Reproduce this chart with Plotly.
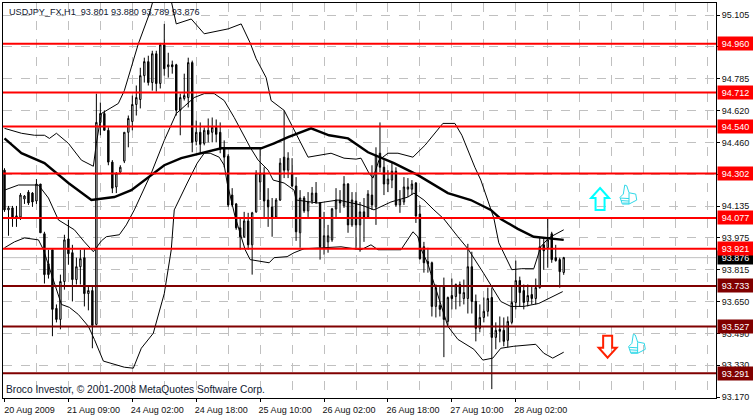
import plotly.graph_objects as go

title_text = "USDJPY_FX,H1  93.801 93.880 93.789 93.876"
copyright_text = "Broco Investor, © 2001-2008 MetaQuotes Software Corp."

opens = [94.319,94.118,94.128,94.082,94.082,94.173,94.208,94.203,94.163,94.249,
93.997,93.845,93.916,93.619,93.563,93.755,93.971,93.901,93.765,93.830,
93.876,93.694,93.709,93.538,94.561,94.606,94.521,94.360,94.234,94.309,
94.365,94.511,94.566,94.652,94.677,94.798,94.869,94.763,94.909,94.758,
94.954,94.843,94.853,94.853,94.622,94.682,94.687,94.864,94.465,94.511,
94.455,94.521,94.511,94.536,94.511,94.430,94.390,94.193,94.148,94.027,
93.982,94.062,93.941,94.108,94.259,94.304,94.168,94.133,94.082,94.168,
94.385,94.319,94.304,94.239,94.002,94.178,94.113,94.163,94.203,94.153,
93.931,93.956,93.966,94.123,94.168,94.138,94.249,94.042,94.163,94.042,
94.108,94.082,94.193,94.133,94.405,94.334,94.249,94.269,94.314,94.143,
94.158,94.223,94.223,94.254,94.097,93.931,93.856,93.850,93.629,93.634,
93.730,93.553,93.684,93.679,93.740,93.669,93.669,93.830,93.654,93.518,
93.573,93.604,93.674,93.472,93.513,93.508,93.457,93.548,93.649,93.760,
93.709,93.654,93.689,93.669,93.724,93.941,93.926,93.997,93.876,93.866,93.801]
highs = [94.329,94.138,94.138,94.138,94.203,94.193,94.218,94.208,94.274,94.249,
94.007,93.916,93.916,93.639,93.790,93.992,94.067,93.941,93.876,93.916,
93.921,93.730,93.730,94.707,94.662,94.622,94.536,94.370,94.309,94.344,
94.511,94.596,94.697,94.748,94.838,94.889,94.899,94.924,94.924,94.964,
95.060,94.914,94.874,94.858,94.707,94.808,94.889,94.874,94.571,94.561,
94.536,94.581,94.586,94.576,94.561,94.470,94.400,94.228,94.153,94.082,
94.108,94.103,94.108,94.319,94.430,94.334,94.228,94.178,94.178,94.380,
94.622,94.410,94.380,94.284,94.218,94.188,94.208,94.234,94.259,94.158,
94.108,94.042,94.128,94.228,94.218,94.289,94.254,94.208,94.208,94.158,
94.178,94.218,94.344,94.435,94.561,94.370,94.319,94.355,94.334,94.218,
94.284,94.279,94.269,94.259,94.143,93.956,93.926,93.856,93.740,93.730,
93.775,93.679,93.770,93.745,93.755,93.765,93.946,93.906,93.689,93.639,
93.674,93.724,93.724,93.548,93.578,93.573,93.578,93.730,93.861,93.780,
93.740,93.740,93.730,93.770,93.976,93.976,94.072,94.007,93.941,93.876,93.880]
lows = [94.108,93.987,94.032,94.032,94.067,94.148,94.143,94.133,94.148,94.002,
93.745,93.770,93.478,93.548,93.513,93.714,93.840,93.654,93.740,93.740,
93.629,93.609,93.417,93.533,94.496,94.521,94.344,94.203,94.203,94.299,
94.355,94.435,94.521,94.596,94.632,94.763,94.748,94.722,94.717,94.733,
94.798,94.788,94.808,94.596,94.496,94.672,94.637,94.410,94.445,94.405,
94.445,94.460,94.460,94.460,94.405,94.334,94.133,94.133,94.017,93.916,
93.976,93.916,93.790,94.103,94.168,94.082,94.032,93.982,94.077,94.163,
94.279,94.279,94.234,93.961,93.926,94.103,94.082,94.148,94.148,93.866,
93.891,93.901,93.956,94.082,94.103,94.128,94.002,94.032,93.916,93.906,
93.956,94.077,94.118,94.042,94.309,94.193,94.208,94.228,94.133,94.103,
94.143,94.183,94.193,94.052,93.866,93.800,93.800,93.578,93.573,93.578,
93.372,93.533,93.614,93.614,93.629,93.639,93.593,93.593,93.452,93.498,
93.548,93.578,93.210,93.412,93.447,93.427,93.422,93.538,93.614,93.629,
93.614,93.629,93.639,93.639,93.719,93.815,93.825,93.850,93.856,93.724,93.789]
closes = [94.118,94.128,94.082,94.087,94.193,94.188,94.153,94.158,94.249,94.002,
93.790,93.790,93.614,93.563,93.755,93.966,93.896,93.765,93.830,93.871,
93.694,93.709,93.533,94.561,94.606,94.521,94.360,94.228,94.304,94.334,
94.511,94.581,94.652,94.687,94.798,94.869,94.763,94.909,94.758,94.954,
94.833,94.853,94.843,94.622,94.687,94.697,94.864,94.460,94.511,94.450,
94.521,94.501,94.536,94.501,94.425,94.385,94.143,94.143,94.027,93.982,
94.062,93.941,94.103,94.304,94.304,94.163,94.133,94.082,94.168,94.355,
94.319,94.380,94.239,94.007,94.178,94.113,94.158,94.203,94.158,93.931,
93.987,93.987,94.123,94.168,94.153,94.249,94.042,94.168,94.042,94.108,
94.082,94.198,94.143,94.395,94.334,94.249,94.274,94.314,94.143,94.168,
94.234,94.234,94.249,94.087,93.871,93.850,93.845,93.629,93.724,93.614,
93.563,93.674,93.669,93.740,93.694,93.699,93.830,93.654,93.518,93.573,
93.604,93.669,93.472,93.508,93.503,93.452,93.553,93.649,93.760,93.699,
93.649,93.684,93.669,93.724,93.931,93.911,93.966,93.866,93.861,93.805,93.876]
bar_index = list(range(len(opens)))

upper_x = [0,4.25,7.5,10,11.25,13,16,19.25,22.25,23,24.25,28.5,30,33.5,36.25,39.25,41.75,43,46.75,50,56,59.25,61.5,63,65.5,66.75,70,73,76,81.75,85,88,89.25,91.25,92.25,93.75,96,98.5,102.25,105.25,107.25,109.75,112.75,114.5,117.75,119.25,122.5,123.75,127,129.5,132.5,134.25,136.25,140]
upper_y = [94.531,94.506,94.496,94.496,94.480,94.506,94.455,94.370,94.339,94.455,94.606,94.657,94.722,94.959,95.110,95.327,95.176,95.060,95.085,95.010,95.035,95.060,94.964,94.884,94.788,94.672,94.622,94.506,94.385,94.405,94.380,94.375,94.380,94.304,94.279,94.370,94.405,94.405,94.385,94.445,94.496,94.556,94.556,94.496,94.334,94.269,94.077,93.951,93.815,93.820,93.820,93.931,93.976,94.017]
middle_x = [0,3.5,8.5,11,13.5,17.5,20,22.25,24.25,25.5,28.75,30.5,32.5,36.75,40,43,47.5,50,52.5,55,57.5,61.5,63.5,66,67.25,70,72.5,73,78.5,83.5,89.25,92.5,96.75,101,102.5,105,107.5,110,113.5,116,120,124.25,126.75,130,133.75,139.75]
middle_y = [94.218,94.244,94.244,94.178,94.067,94.017,93.956,93.906,93.961,93.982,93.992,94.042,94.118,94.304,94.470,94.606,94.687,94.707,94.707,94.672,94.586,94.435,94.370,94.319,94.269,94.254,94.218,94.168,94.153,94.168,94.143,94.118,94.158,94.183,94.203,94.168,94.118,94.072,93.982,93.921,93.795,93.654,93.629,93.629,93.644,93.704]
lower_x = [0,2.5,5,8.5,9.75,11.75,14.25,16.25,18.5,21,22.5,24.75,30,32.25,34.25,37.25,40,41.75,42.5,45.75,48.25,50,51.5,53.75,55,55.75,57.75,60.25,61.5,66.25,67.5,70.75,72.5,75,84.25,89.25,91.75,93.5,99.25,102.25,103.5,104.25,106,106.75,111,113.5,117.5,119.75,122.25,124.25,127.5,133,135,137.25,140]
lower_y = [93.926,93.956,93.976,93.966,93.916,93.790,93.639,93.624,93.588,93.528,93.462,93.352,93.321,93.316,93.417,93.493,93.694,93.916,94.118,94.254,94.355,94.405,94.405,94.385,94.344,94.254,94.082,93.916,93.866,93.850,93.876,93.881,93.901,93.921,93.931,93.916,93.941,93.916,93.916,94.007,93.982,93.921,93.845,93.795,93.528,93.462,93.412,93.357,93.367,93.417,93.427,93.437,93.392,93.367,93.397]
ma_x = [0,4.25,10,16,21.75,27.5,31.75,36,40,44.25,49.25,54.25,61.5,64.25,67.5,71,76.75,81.25,86,91,97.5,103.5,111,116.75,121.75,124.25,128.5,132.5,140]
ma_y = [94.480,94.405,94.355,94.254,94.168,94.183,94.218,94.284,94.344,94.380,94.405,94.430,94.430,94.430,94.455,94.486,94.531,94.496,94.480,94.410,94.355,94.294,94.203,94.168,94.118,94.072,94.022,93.982,93.966]

red_levels = [94.960, 94.712, 94.540, 94.302, 94.077, 93.921]
dark_levels = [93.733, 93.527, 93.291]
last_price = 93.876

price_ticks = [95.105,94.944,94.782,94.621,94.460,94.299,94.137,93.976,93.815,93.654,93.492,93.331,93.170]
price_labels = ["95.105","94.945","94.785","94.620","94.460","94.300","94.135","93.975","93.815","93.650","93.490","93.330","93.170"]
date_ticks = [0,16,32,48,64,80,96,112,128]
date_labels = ["20 Aug 2009","21 Aug 09:00","24 Aug 02:00","24 Aug 18:00","25 Aug 10:00","26 Aug 02:00","26 Aug 18:00","27 Aug 10:00","28 Aug 02:00"]
grid_ticks = list(range(8, 177, 8))

FONT = "Liberation Sans"
TEXT = "#101010"

fig = go.Figure()
fig.add_trace(go.Candlestick(
    x=bar_index, open=opens, high=highs, low=lows, close=closes,
    whiskerwidth=0,
    increasing=dict(line=dict(color="black", width=1), fillcolor="white"),
    decreasing=dict(line=dict(color="black", width=1), fillcolor="black"),
    hoverinfo="skip",
))
for xs, ys, w in [(upper_x, upper_y, 1), (middle_x, middle_y, 1), (lower_x, lower_y, 1), (ma_x, ma_y, 2.4)]:
    fig.add_trace(go.Scatter(x=xs, y=ys, mode="lines", line=dict(color="black", width=w), hoverinfo="skip"))

shapes = [dict(type="line", xref="paper", x0=0, x1=1, yref="y", y0=last_price, y1=last_price,
               line=dict(color="#C0C0C0", width=1), layer="below")]
annotations = []
def label(y, bg):
    annotations.append(dict(xref="paper", yref="y", x=1, y=y, xanchor="left", yanchor="middle", xshift=1,
                            text=f"{y:.3f}", showarrow=False, bgcolor=bg, width=35, height=13, align="center",
                            borderpad=0, font=dict(family=FONT, size=9, color="white")))
label(last_price, "#000000")
for lv in red_levels:
    shapes.append(dict(type="line", xref="paper", x0=0, x1=1, yref="y", y0=lv, y1=lv, line=dict(color="#FF0000", width=2)))
    label(lv, "#FF0000")
for lv in dark_levels:
    shapes.append(dict(type="line", xref="paper", x0=0, x1=1, yref="y", y0=lv, y1=lv, line=dict(color="#800000", width=2)))
    label(lv, "#800000")

def icon(path, ax, ay, color, width=1.6):
    shapes.append(dict(type="path", xsizemode="pixel", ysizemode="pixel", xref="x", yref="y",
                       xanchor=ax, yanchor=ay, path=path, line=dict(color=color, width=width)))

UP = "M 0 11 L 9 1 L 4.5 1 L 4.5 -11 L -4.5 -11 L -4.5 1 L -9 1 Z"
DOWN = "M 0 -11 L 9 -1 L 4.5 -1 L 4.5 11 L -4.5 11 L -4.5 -1 L -9 -1 Z"
THUMB = ("M -3.3 10 L -1.3 9.3 L 1 2.3 L 7.7 1 L 8.7 -5 L 1 -9 L -5.7 -9 L -8 -2.3 L -4.7 1 Z "
         "M -7.5 -3 L 1 -3.5 M -7 -5.5 L 1 -6 M -5.5 -8 L 1 -8 M 1 2 L 1 -9")
icon(UP, 149.1, 94.173, "#00FFFF", 2)
icon(DOWN, 151, 93.425, "#FF2000", 2)
icon(THUMB, 156.1, 94.193, "#30D8E8", 1)
icon(THUMB, 158.25, 93.437, "#30D8E8", 1)

annotations.append(dict(xref="paper", yref="paper", x=0, y=1, xanchor="left", yanchor="top", xshift=5, yshift=-3,
                        text=title_text, showarrow=False, borderpad=0, font=dict(family=FONT, size=9.1, color="#101830")))
annotations.append(dict(xref="paper", yref="paper", x=0, y=0, xanchor="left", yanchor="bottom", xshift=2, yshift=2,
                        text=copyright_text, showarrow=False, borderpad=0, font=dict(family=FONT, size=10.2, color="#101830")))

fig.update_layout(
    width=753, height=417, autosize=False,
    margin=dict(l=2, r=37, t=2, b=18, pad=0),
    paper_bgcolor="white", plot_bgcolor="white",
    showlegend=False, hovermode=False, boxgap=0.5,
    font=dict(family=FONT, size=9, color=TEXT),
    shapes=shapes, annotations=annotations,
    xaxis=dict(range=[-0.375, 178.125], rangeslider=dict(visible=False), fixedrange=True,
               tickmode="array", tickvals=date_ticks, ticktext=date_labels, tickangle=0,
               ticks="outside", ticklen=3, tickcolor="black", tickwidth=1,
               ticklabelshift=25, showgrid=False, zeroline=False,
               showline=True, linecolor="black", linewidth=1, mirror=True,
               minor=dict(tickmode="array", tickvals=grid_ticks, showgrid=True, gridcolor="#C0C0C0",
                          griddash="dash", gridwidth=1, ticks="")),
    yaxis=dict(range=[93.165, 95.166], side="right", fixedrange=True,
               tickmode="array", tickvals=price_ticks, ticktext=price_labels,
               ticks="outside", ticklen=3, tickcolor="black", tickwidth=1,
               showgrid=True, gridcolor="#C0C0C0", griddash="dash", gridwidth=1, zeroline=False,
               showline=True, linecolor="black", linewidth=1, mirror=True),
)
fig.write_html("out.html", config=dict(displayModeBar=False),
               post_script="document.body.style.margin='0';document.body.style.overflow='hidden';")
